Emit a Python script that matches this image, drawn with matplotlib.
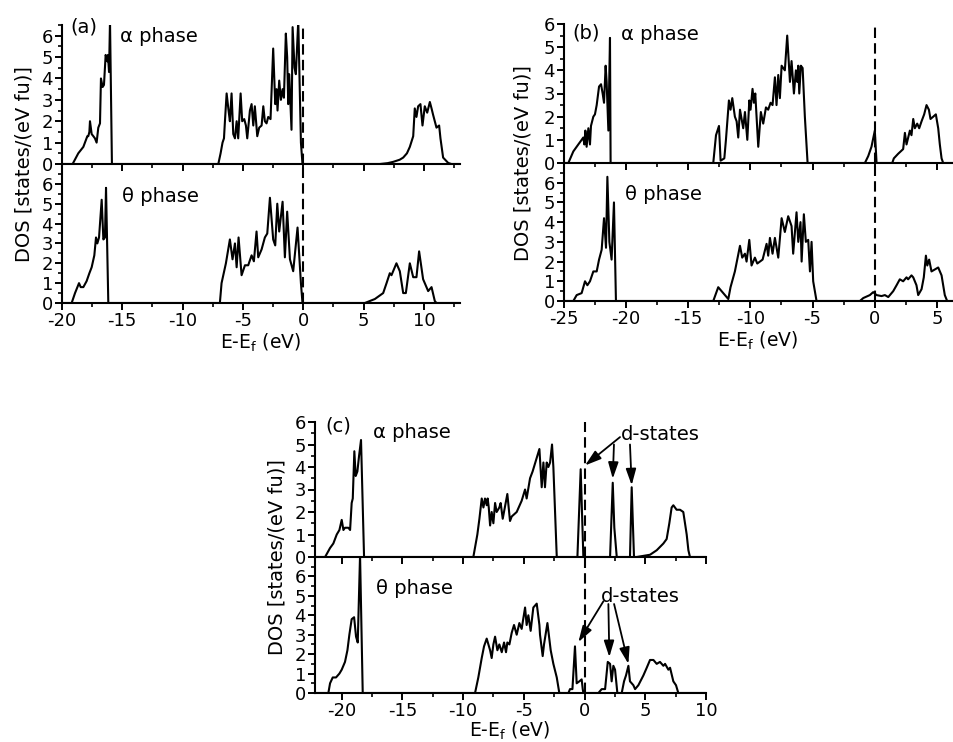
import matplotlib
matplotlib.use('Agg')
import matplotlib.pyplot as plt
from matplotlib.ticker import MultipleLocator, FixedLocator

plt.rcParams['font.family'] = ['DejaVu Sans']
plt.rcParams['axes.unicode_minus'] = False

# ---------------- data ----------------
# panel (a) alpha
a_alpha_x = [-20, -19.12, -18.65, -18.23, -17.90, -17.82, -17.73, -17.68, -17.54, -17.40, -17.27, -17.13,
             -16.99, -16.85, -16.77, -16.63, -16.52, -16.38, -16.24, -16.19, -16.10, -16.02, -15.86,
             -7.04, -6.85, -6.69, -6.57, -6.49, -6.35, -6.19, -6.08, -5.94, -5.80, -5.66, -5.52, -5.39,
             -5.19, -5.06, -4.89, -4.75, -4.64, -4.42, -4.28, -4.14, -4.01, -3.81, -3.65, -3.45, -3.31,
             -3.18, -3.04, -2.90, -2.71, -2.49, -2.32, -2.21, -2.13, -1.99, -1.85, -1.71, -1.60, -1.44,
             -1.33, -1.24, -1.16, -0.97, -0.88, -0.72, -0.61, -0.41, -0.19, -0.06,
             6.35, 7.0, 7.46, 8.0, 8.29, 8.6, 8.84, 9.12, 9.25, 9.39, 9.53, 9.72, 9.89, 10.08, 10.28,
             10.50, 10.64, 10.77, 11.05, 11.27, 11.38, 11.60, 12.02, 12.29, 13]
a_alpha_y = [0, 0, 0.5, 0.8, 1.3, 1.3, 1.5, 2.0, 1.4, 1.3, 1.2, 1.0,
             1.7, 1.9, 4.0, 3.6, 3.7, 5.1, 4.8, 5.1, 4.3, 6.7, 0,
             0, 0.5, 1.0, 1.2, 2.0, 3.3, 2.5, 2.0, 3.3, 1.4, 1.2, 2.0, 1.2,
             3.3, 2.0, 2.1, 1.8, 1.2, 2.5, 2.8, 1.8, 2.7, 1.3, 1.7, 1.8, 2.7,
             2.0, 1.9, 2.2, 2.1, 5.4, 2.8, 3.5, 2.5, 3.9, 3.0, 3.5, 3.1, 6.1,
             5.0, 2.8, 4.2, 1.6, 6.4, 4.5, 4.2, 6.7, 1.0, 0,
             0, 0.04, 0.1, 0.2, 0.3, 0.5, 0.8, 1.3, 2.6, 2.2, 2.7, 2.8, 1.8, 2.7, 2.4,
             2.9, 2.6, 2.3, 1.7, 1.8, 1.2, 0.3, 0.05, 0, 0]

# panel (a) theta
a_theta_x = [-20, -19.20, -18.92, -18.59, -18.45, -18.23, -17.96, -17.73, -17.54, -17.32, -17.18, -17.07,
             -16.93, -16.71, -16.57, -16.44, -16.35, -16.16,
             -6.91, -6.77, -6.41, -6.08, -5.86, -5.66, -5.52, -5.36, -5.11, -4.83, -4.56, -4.28, -4.09,
             -3.87, -3.73, -3.45, -3.18, -2.98, -2.76, -2.49, -2.32, -2.15, -1.99, -1.71, -1.52, -1.33,
             -1.10, -0.83, -0.47, -0.19, -0.06,
             5.11, 5.94, 6.63, 6.91, 7.18, 7.32, 7.73, 8.01, 8.29, 8.51, 8.84, 9.12, 9.39, 9.61, 9.94,
             10.36, 10.64, 10.91, 11.05, 13]
a_theta_y = [0, 0, 0.5, 1.0, 0.8, 0.8, 1.1, 1.5, 1.8, 2.4, 3.3, 3.0,
             3.3, 5.2, 3.2, 3.3, 5.8, 0,
             0, 1.0, 2.0, 3.2, 2.2, 3.0, 1.8, 3.3, 1.4, 1.9, 1.9, 2.4, 2.1,
             3.6, 2.3, 2.7, 3.3, 3.5, 5.3, 3.2, 2.9, 5.0, 3.6, 5.1, 2.3, 4.6,
             2.2, 1.6, 3.8, 1.0, 0,
             0, 0.2, 0.5, 1.0, 1.5, 1.4, 2.0, 1.6, 0.5, 0.5, 2.0, 1.3, 1.3, 2.6, 1.2,
             0.6, 0.8, 0.1, 0, 0]

# panel (b) alpha
b_alpha_x = [-25, -24.65, -24.25, -23.85, -23.58, -23.45, -23.36, -23.28, -23.18, -23.04, -22.91, -22.83,
             -22.64, -22.51, -22.37, -22.18, -22.02, -21.89, -21.78, -21.65, -21.57, -21.43, -21.30, -21.25,
             -12.99, -12.77, -12.53, -12.40, -12.10, -11.97, -11.73, -11.60, -11.46, -11.25, -11.11, -10.98,
             -10.84, -10.58, -10.44, -10.25, -10.09, -9.99, -9.83, -9.72, -9.61, -9.37, -9.16, -8.97, -8.75,
             -8.57, -8.38, -8.22, -8.03, -7.90, -7.76, -7.63, -7.49, -7.23, -7.04, -6.82, -6.69, -6.50,
             -6.34, -6.23, -6.15, -6.07, -5.94, -5.80, -5.62, -5.40,
             -0.79, -0.52, -0.26, 0.01, 0.15,
             1.41, 1.54, 1.89, 2.29, 2.43, 2.56, 2.83, 2.96, 3.10, 3.23, 3.42, 3.58, 3.77, 3.98, 4.17,
             4.36, 4.49, 4.71, 4.92, 5.11, 5.24, 5.38, 5.51, 6.3]
b_alpha_y = [0, 0, 0.5, 0.8, 1.0, 1.1, 0.8, 1.4, 0.7, 1.5, 0.8, 1.6,
             2.0, 2.1, 2.5, 3.3, 3.4, 3.0, 2.6, 4.2, 3.5, 1.4, 5.4, 0,
             0, 1.2, 1.6, 0.1, 0.2, 1.0, 2.7, 2.3, 2.8, 2.0, 1.8, 1.1,
             2.3, 1.5, 2.2, 1.0, 2.7, 2.3, 3.2, 2.6, 3.0, 0.7, 2.2, 1.7, 2.4,
             2.3, 2.6, 2.5, 3.7, 2.5, 3.8, 2.8, 4.2, 4.0, 5.5, 3.5, 4.4, 3.0,
             4.0, 3.5, 4.2, 3.0, 4.2, 4.1, 2.0, 0,
             0, 0.3, 0.7, 1.4, 0,
             0, 0.2, 0.4, 0.6, 1.3, 0.8, 1.4, 1.2, 1.9, 1.5, 1.7, 1.5, 1.8, 2.1, 2.5,
             2.3, 1.9, 2.0, 2.1, 1.5, 0.8, 0.2, 0, 0]

# panel (b) theta
b_theta_x = [-25, -24.25, -23.98, -23.58, -23.31, -23.12, -22.91, -22.64, -22.37, -22.18, -21.97, -21.78,
             -21.62, -21.51, -21.35, -21.17, -20.98, -20.82,
             -12.99, -12.59, -12.05, -11.78, -11.60, -11.25, -10.84, -10.66, -10.44, -10.31, -10.09, -9.91,
             -9.64, -9.45, -9.02, -8.70, -8.57, -8.43, -8.22, -8.03, -7.76, -7.49, -7.23, -6.96, -6.69,
             -6.56, -6.29, -6.15, -5.97, -5.88, -5.70, -5.54, -5.35, -5.21, -5.08, -4.95, -4.68,
             -1.19, -0.92, -0.39, -0.12, 0.15, 0.55, 0.82, 1.09, 1.49, 1.76, 2.02, 2.29, 2.56, 2.69, 2.96,
             3.10, 3.36, 3.50, 3.77, 3.95, 4.12, 4.23, 4.38, 4.57, 4.84, 5.11, 5.38, 5.64, 5.83, 6.3]
b_theta_y = [0, 0, 0.3, 0.4, 1.0, 0.8, 1.0, 1.5, 1.5, 2.1, 2.6, 4.2,
             2.7, 6.3, 3.0, 2.1, 5.0, 0,
             0, 0.7, 0.3, 0.1, 0.7, 1.5, 2.8, 2.2, 2.4, 2.0, 3.1, 1.8,
             2.2, 1.9, 2.1, 2.9, 2.3, 3.2, 2.4, 3.2, 2.2, 4.2, 3.5, 4.3, 3.8,
             2.4, 4.5, 3.0, 4.0, 2.0, 4.4, 3.0, 3.1, 1.5, 3.0, 1.0, 0,
             0, 0.15, 0.3, 0.45, 0.3, 0.25, 0.3, 0.2, 0.5, 0.8, 1.1, 1.0, 1.2, 1.1, 1.3,
             1.2, 0.8, 0.3, 0.6, 1.2, 2.3, 1.8, 2.1, 1.5, 1.6, 1.7, 1.3, 0.3, 0, 0]

# panel (c) alpha
c_alpha_x = [-22.2, -21.37, -20.96, -20.69, -20.41, -20.19, -20.00, -19.86, -19.73, -19.45, -19.31, -19.18,
             -19.09, -18.96, -18.85, -18.71, -18.57, -18.41, -18.16,
             -9.16, -8.83, -8.66, -8.47, -8.33, -8.20, -8.06, -7.98, -7.89, -7.78, -7.65, -7.51, -7.37,
             -7.24, -7.02, -6.91, -6.74, -6.36, -6.14, -6.00, -5.59, -5.18, -4.90, -4.77, -4.49, -4.28,
             -4.00, -3.72, -3.53, -3.39, -3.26, -3.12, -2.98, -2.84, -2.68, -2.57, -2.43, -2.29,
             -0.59, -0.32, -0.10, 2.10, 2.32, 2.45, 2.65, 3.74, 3.88, 4.07,
             4.29, 4.84, 5.39, 5.94, 6.49, 6.76, 6.98, 7.17, 7.31, 7.58, 7.86, 8.13, 8.41, 8.55, 8.68, 10]
c_alpha_y = [0, 0, 0.4, 0.6, 1.0, 1.2, 1.65, 1.2, 1.3, 1.3, 1.2, 2.4,
             2.6, 4.7, 3.6, 3.8, 4.5, 5.2, 0,
             0, 1.0, 1.7, 2.6, 2.2, 2.6, 2.3, 2.6, 2.2, 1.4, 2.0, 1.5, 2.4,
             2.0, 2.2, 2.4, 1.7, 2.8, 1.6, 1.8, 2.0, 2.5, 3.0, 2.6, 3.5, 3.8,
             4.3, 4.8, 3.1, 4.2, 3.1, 4.2, 4.0, 4.2, 5.0, 4.0, 2.0, 0,
             0, 3.9, 0, 0, 3.3, 1.3, 0, 0, 3.1, 0,
             0, 0.05, 0.1, 0.3, 0.6, 0.8, 1.5, 2.2, 2.3, 2.1, 2.1, 2.0, 1.0, 0.3, 0, 0]

# panel (c) theta
c_theta_x = [-22.2, -21.10, -20.96, -20.74, -20.47, -20.19, -20.00, -19.73, -19.53, -19.37, -19.18, -18.98,
             -18.82, -18.68, -18.49, -18.27,
             -9.02, -8.75, -8.47, -8.28, -8.06, -7.92, -7.78, -7.65, -7.51, -7.37, -7.18, -7.02, -6.82,
             -6.63, -6.47, -6.36, -6.19, -6.00, -5.81, -5.59, -5.37, -5.18, -4.90, -4.77, -4.63, -4.44,
             -4.22, -3.94, -3.72, -3.67, -3.45, -3.34, -3.06, -2.79, -2.57, -2.29, -2.08,
             -1.33, -1.20, -1.00, -0.79, -0.65, -0.43, -0.24, -0.15, -0.10,
             1.14, 1.41, 1.69, 1.91, 2.10, 2.23, 2.37, 2.51, 2.70,
             3.06, 3.25, 3.41, 3.61, 3.74, 4.02, 4.16, 4.43, 4.84, 5.12, 5.39, 5.67, 5.94, 6.21, 6.49,
             6.63, 6.90, 7.04, 7.31, 7.53, 7.72, 10]
c_theta_y = [0, 0, 0.5, 0.8, 0.8, 1.0, 1.2, 1.6, 2.2, 3.0, 3.8, 3.9,
             2.9, 2.6, 7.1, 0,
             0, 0.8, 1.8, 2.4, 2.8, 2.5, 2.2, 1.8, 2.5, 2.9, 2.2, 2.5, 2.1,
             2.6, 2.1, 2.6, 2.5, 3.1, 3.5, 3.0, 3.6, 3.3, 4.4, 3.5, 4.0, 3.2,
             4.4, 4.6, 3.5, 3.0, 1.9, 2.5, 3.6, 2.2, 1.5, 0.8, 0,
             0, 0.2, 0.2, 2.4, 0.5, 0.6, 0.7, 0.2, 0,
             0, 0.2, 0.2, 1.6, 1.5, 0.6, 1.4, 1.2, 0,
             0, 0.6, 0.9, 1.4, 0.6, 0.4, 0.2, 0.4, 0.9, 1.3, 1.7, 1.7, 1.5, 1.6, 1.4,
             1.5, 1.2, 1.3, 0.6, 0.4, 0, 0]

yticks = [0, 1, 2, 3, 4, 5, 6]
ylabel = 'DOS [states/(eV fu)]'
xlabel = 'E-E$_\\mathregular{f}$ (eV)'

# ---------------- figure ----------------
W, H = 954, 742
fig = plt.figure(figsize=(W / 100, H / 100), dpi=100)
FS = 14
TFS = 13
LW = 1.5


def rect(l, r, t, b):
    return [l / W, 1 - b / H, (r - l) / W, (b - t) / H]


def ftext(x, y, s, **kw):
    kw.setdefault('fontsize', FS)
    fig.text(x / W, 1 - y / H, s, **kw)


def setup(ax, xlim, ylim, labels):
    ax.set_xlim(*xlim)
    ax.set_ylim(*ylim)
    ax.patch.set_alpha(0)
    for s in ['top', 'right']:
        ax.spines[s].set_visible(False)
    for s in ['left', 'bottom']:
        ax.spines[s].set_linewidth(LW)
    ax.xaxis.set_major_locator(MultipleLocator(5))
    ax.xaxis.set_minor_locator(MultipleLocator(2.5))
    ax.yaxis.set_major_locator(FixedLocator(yticks))
    ax.yaxis.set_minor_locator(FixedLocator([v + 0.5 for v in yticks]))
    ax.tick_params(which='major', length=5, width=1.4, direction='out', labelsize=TFS, pad=1.5)
    ax.tick_params(which='minor', length=3, width=1.2, direction='out')
    if not labels:
        ax.tick_params(axis='x', labelbottom=False)


def panel(l, r, t, m, b, xlim, ylim_up, ax_, ay_, tx_, ty_):
    ax1 = fig.add_axes(rect(l, r, t, m))
    ax2 = fig.add_axes(rect(l, r, m, b))
    setup(ax1, xlim, (0, ylim_up), False)
    setup(ax2, xlim, (0, 7.0), True)
    ax1.plot(ax_, ay_, color='black', lw=LW)
    ax2.plot(tx_, ty_, color='black', lw=LW)
    for ax in (ax1, ax2):
        ax.axvline(0, color='black', lw=LW, ls=(0, (5, 2.5)))
    return ax1, ax2


# (a)
panel(62, 460, 25, 164, 303, (-20, 13), 6.5, a_alpha_x, a_alpha_y, a_theta_x, a_theta_y)
ftext(70, 27, '(a)', va='center')
ftext(120, 36, 'α phase', va='center')
ftext(122, 196, 'θ phase', va='center')
ftext(24, 164, ylabel, rotation=90, ha='center', va='center')
ftext(261, 349, xlabel, ha='center', va='baseline', fontsize=13.5)

# (b)
panel(564, 953, 24, 163, 301, (-25, 6.3), 6.0, b_alpha_x, b_alpha_y, b_theta_x, b_theta_y)
ftext(572, 33, '(b)', va='center')
ftext(621, 34, 'α phase', va='center')
ftext(625, 194, 'θ phase', va='center')
ftext(523, 163, ylabel, rotation=90, ha='center', va='center')
ftext(758, 347, xlabel, ha='center', va='baseline', fontsize=13.5)

# (c)
c1, c2 = panel(315, 706, 422, 557, 693, (-22.2, 10), 6.0, c_alpha_x, c_alpha_y, c_theta_x, c_theta_y)
ftext(325, 426, '(c)', va='center')
ftext(373, 433, 'α phase', va='center')
ftext(376, 588, 'θ phase', va='center')
ftext(277, 557, ylabel, rotation=90, ha='center', va='center')
ftext(510, 737, xlabel, ha='center', va='baseline', fontsize=13.5)

ftext(621, 434, 'd-states', va='center')
ftext(601, 596, 'd-states', va='center')

ap = dict(arrowstyle='-|>,head_length=0.7,head_width=0.22', color='black', lw=1.3,
          mutation_scale=14, shrinkA=0, shrinkB=0)
for tail, head in [((2.92, 5.33), (0.04, 4.07)), ((2.42, 5.0), (2.32, 3.48)), ((3.74, 5.0), (3.88, 3.19))]:
    c1.annotate('', xy=head, xytext=tail, arrowprops=ap, annotation_clip=False)
for tail, head in [((1.55, 4.72), (-0.51, 2.62)), ((1.96, 4.58), (2.04, 1.85)), ((2.43, 4.58), (3.61, 1.5))]:
    c2.annotate('', xy=head, xytext=tail, arrowprops=ap, annotation_clip=False)

fig.savefig('out.png', dpi=100)
